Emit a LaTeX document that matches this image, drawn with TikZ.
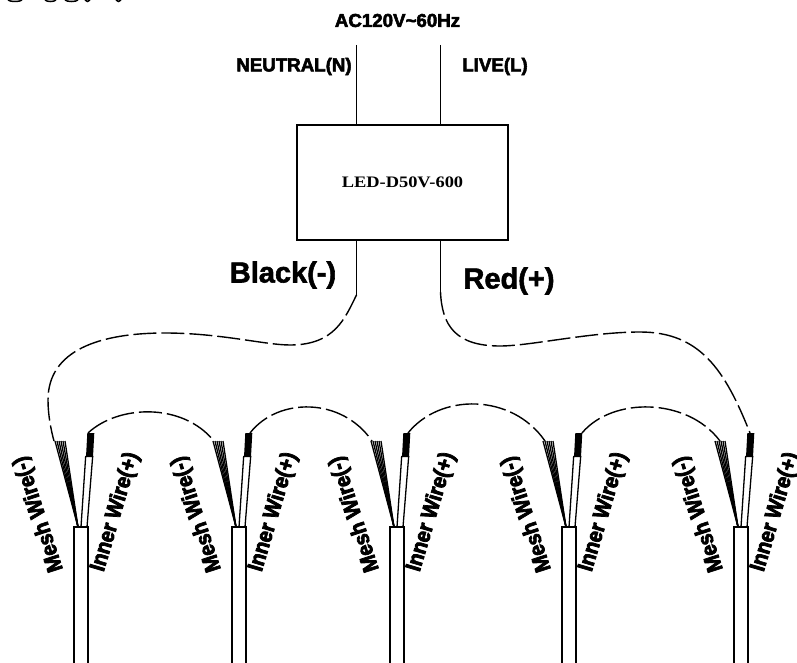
\documentclass[tikz,border=0pt]{standalone}
\usepackage{fontspec}
\setmainfont{Liberation Sans}
\newfontfamily\ledfont{Liberation Serif}
\newcommand{\heavytext}[1]{\special{pdf:code 2 Tr 0.55 w}#1\special{pdf:code 0 Tr 1 w}}
\newcommand{\heaviertext}[1]{\scalebox{0.91}[1]{\special{pdf:code 2 Tr 0.8 w}#1\special{pdf:code 0 Tr 1 w}}}
\begin{document}
\begin{tikzpicture}[x=1pt,y=-1pt,
  wire/.style={line width=1.3pt},
  cablewire/.style={line width=1.7pt},
  link/.style={line width=1.4pt,dash pattern=on 23pt off 5pt},
  strand/.style={line width=1.3pt},
  lab/.style={inner sep=0pt},
  smalllab/.style={lab,font=\bfseries\fontsize{18.7}{20}\selectfont},
  biglab/.style={lab,font=\bfseries\fontsize{29}{32}\selectfont},
  sidelab/.style={lab,font=\bfseries\fontsize{22}{24}\selectfont},
  unitbox/.style={draw,line width=1.4pt,minimum width=211pt,minimum height=115pt,inner sep=0pt,font=\ledfont\bfseries\fontsize{16}{18}\selectfont}]
\useasboundingbox (0,0) rectangle (797,663);
\fill[white] (0,0) rectangle (797,663);
% cropped fragments at the top edge
\foreach \a/\b in {8/22,45/56,65/78,85/90,116/121}
  \draw[line width=1.5pt] (\a,0) .. controls (\a+2,2) and (\b-2,2) .. (\b,0);
% power unit
\node[unitbox] (unit) at (402.5,182.5) {\scalebox{1.15}[1]{LED-D50V-600}};
\coordinate (nIn) at (356.5,45);
\coordinate (lIn) at (440.5,45);
\coordinate (nTop) at (356.5,125);
\coordinate (lTop) at (440.5,125);
\coordinate (nBot) at (356.5,240);
\coordinate (lBot) at (440.5,240);
\coordinate (nEnd) at (356.5,295);
\coordinate (lEnd) at (440.5,292);
\draw[wire] (nIn) -- (nTop);
\draw[wire] (lIn) -- (lTop);
\draw[wire] (nBot) -- (nEnd);
\draw[wire] (lBot) -- (lEnd);
\node[smalllab] (ac) at (397.5,20.5) {\heavytext{AC120V\textasciitilde 60Hz}};
\node[smalllab] (neutral) at (294,66.5) {\heavytext{NEUTRAL(N)}};
\node[smalllab] (live) at (495,66.5) {\heavytext{LIVE(L)}};
\node[biglab] (black) at (283,275) {\heavytext{Black(-)}};
\node[biglab] (red) at (509,281) {\heavytext{Red(+)}};
% cables
\foreach \n/\x in {1/74,2/232,3/390,4/562,5/734}{
  \begin{scope}[xshift=\x pt]
    \coordinate (c\n) at (0,527);
    \coordinate (c\n b) at (0,663);
    \coordinate (d\n) at (14,527);
    \coordinate (d\n b) at (14,663);
    \draw[cablewire] (c\n b) -- (c\n) -- (d\n) -- (d\n b);
    \coordinate (apex\n) at (4,527);
    \foreach \k in {-19,-17,-15,-13,-11,-9}
      \draw[strand] (apex\n) -- (\k,441);
    \draw[wire] (7,527) -- (11.7,456);
    \draw[wire] (13,527) -- (18.7,456);
    \draw[wire] (11.7,456) -- (18.7,456);
    \fill (12,457) -- (13.3,433) -- (20.3,433) -- (19,457) -- cycle;
    \node[sidelab,rotate=108] (mesh\n) at (-35,514) {\heaviertext{Mesh Wire(-)}};
    \node[sidelab,rotate=73.5] (inner\n) at (41.5,512) {\heaviertext{Inner Wire(+)}};
  \end{scope}
}
% link end points
\coordinate (m1) at (54,441);
\coordinate (i1) at (88,433);
\coordinate (m2) at (214,441);
\coordinate (i2) at (250,433);
\coordinate (m3) at (372,441);
\coordinate (i3) at (408,433);
\coordinate (m4) at (545,441);
\coordinate (i4) at (582,433);
\coordinate (m5) at (720,441);
\coordinate (i5) at (750,433);
% dashed links
\draw[link] (nEnd) .. controls (345,318) and (335,345) .. (290,345) .. controls (265,345) and (220,333) .. (165,333) .. controls (100,333) and (48,350) .. (48,400) .. controls (48,415) and (51,430) .. (m1);
\draw[link] (lEnd) .. controls (442,325) and (455,346) .. (500,346) .. controls (530,346) and (590,332) .. (640,332) .. controls (700,332) and (725,370) .. (i5);
\draw[link] (i1) .. controls (118,405) and (182,402) .. (m2);
\draw[link] (i2) .. controls (278,397) and (342,397) .. (m3);
\draw[link] (i3) .. controls (440,393) and (512,393) .. (m4);
\draw[link] (i4) .. controls (612,397) and (687,397) .. (m5);
\end{tikzpicture}
\end{document}
